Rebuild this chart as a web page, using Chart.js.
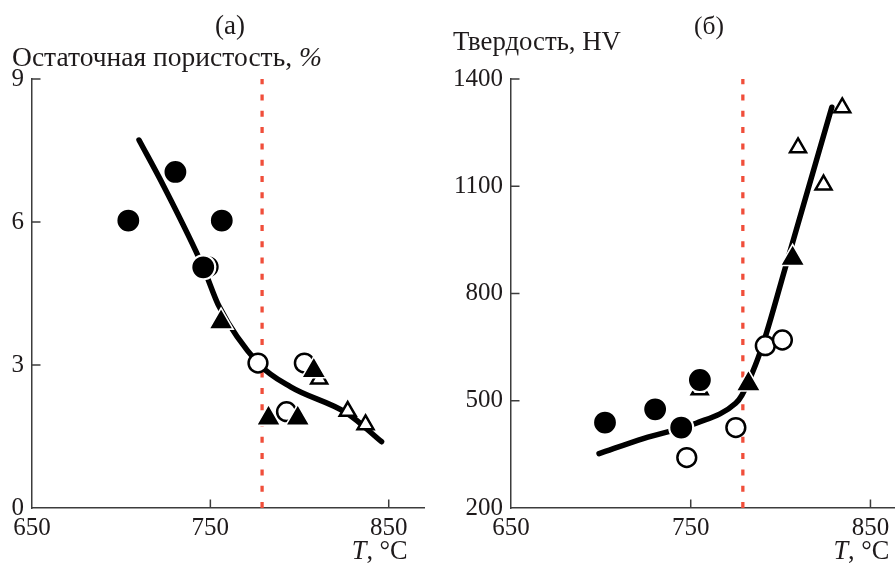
<!DOCTYPE html>
<html><head><meta charset="utf-8">
<script src="https://cdn.jsdelivr.net/npm/chart.js@4/dist/chart.umd.min.js"></script>
<style>
html,body{margin:0;padding:0;background:#fff;overflow:hidden;width:895px;height:563px}
#ca{position:absolute;left:0;top:0}
#cb{position:absolute;left:440px;top:0}
</style></head><body>
<canvas id="ca" width="440" height="563"></canvas>
<canvas id="cb" width="482" height="563"></canvas>
<script>
// ---- shared ----
const xTicks = [650, 750, 850];
const tCritical = 779;

// ---- panel (а): residual porosity, % ----
const poreTicks = [0, 3, 6, 9];
const poreFilledCircleT = [704, 730.4, 756.4, 746];
const poreFilledCircleV = [6.03, 7.05, 6.03, 5.05];
const poreFilledTriT = [756, 782.6, 799, 808];
const poreFilledTriV = [3.9, 1.88, 1.88, 2.88];
const poreOpenCircleT = [748.7, 776.7, 792.7, 802.7];
const poreOpenCircleV = [5.06, 3.04, 2.02, 3.04];
const poreOpenTriT = [811, 827, 837];
const poreOpenTriV = [2.71, 2.03, 1.75];
const poreCurveT = [710, 724, 746, 755, 777, 795, 826.5, 846];
const poreCurveV = [7.72, 6.74, 5.05, 4.22, 3.03, 2.54, 1.99, 1.39];

// ---- panel (б): hardness, HV ----
const hvTicks = [200, 500, 800, 1100, 1400];
const hvFilledCircleT = [702.3, 730.2, 744.7, 755.1];
const hvFilledCircleV = [439, 476, 425, 558];
const hvFilledTriT = [782.1, 806.7];
const hvFilledTriV = [547, 898];
const hvOpenCircleT = [747.8, 775.1, 791.5, 801];
const hvOpenCircleV = [341, 425, 654, 670];
const hvOpenTriT = [755, 809.7, 823.9, 834.3];
const hvOpenTriV = [531, 1208, 1104, 1320];
const hvCurveT = [699, 724, 753, 775, 778.5, 786, 791.5, 802.5, 828.5];
const hvCurveV = [352, 395, 437, 493, 516, 600, 679, 870, 1321];

const FONT = '"Liberation Serif", "Times New Roman", serif';
const INK = '#1e1a1b';
const AXIS = '#3c3c3c';
const RED = 'rgb(240,78,58)';

function pts(xs, ys) { return xs.map((x, i) => ({ x: x, y: ys[i] })); }

function drawRich(ctx, parts, x, y, align, baseSize, targetW) {
  ctx.save();
  ctx.textBaseline = 'alphabetic';
  ctx.textAlign = 'left';
  ctx.fillStyle = INK;
  const measure = size => parts.map(p => { ctx.font = (p[1] ? 'italic ' : '') + size + 'px ' + FONT; return ctx.measureText(p[0]).width; });
  let widths = measure(baseSize);
  let total = widths.reduce((a, b) => a + b, 0);
  let size = baseSize;
  if (targetW) { size = baseSize * targetW / total; widths = measure(size); total = widths.reduce((a, b) => a + b, 0); }
  let cx = align === 'center' ? x - total / 2 : (align === 'right' ? x - total : x);
  parts.forEach((p, i) => {
    ctx.font = (p[1] ? 'italic ' : '') + size + 'px ' + FONT;
    ctx.fillText(p[0], cx, y);
    cx += widths[i];
  });
  ctx.restore();
}

function makePanel(canvasId, o) {
  const markers = [
    { data: pts(o.fcT, o.fcV), pointStyle: 'circle', pointRadius: 12, pointBackgroundColor: '#000', pointBorderColor: '#fff', pointBorderWidth: 2.2 },
    { data: pts(o.ftT, o.ftV), pointStyle: 'triangle', pointRadius: 14, pointBackgroundColor: '#000', pointBorderColor: '#fff', pointBorderWidth: 1.6 },
    { data: pts(o.ocT, o.ocV), pointStyle: 'circle', pointRadius: 9.4, pointBackgroundColor: '#fff', pointBorderColor: '#000', pointBorderWidth: 2.5 },
    { data: pts(o.otT, o.otV), pointStyle: 'triangle', pointRadius: 9.2, pointBackgroundColor: '#fff', pointBorderColor: '#000', pointBorderWidth: 2.5 }
  ];
  markers.forEach(m => { m.showLine = false; m.pointHoverRadius = m.pointRadius; });
  const curve = { data: pts(o.curveT, o.curveV), showLine: true, pointRadius: 0, borderColor: '#000', borderWidth: 5.5, cubicInterpolationMode: 'monotone', borderCapStyle: 'round', borderJoinStyle: 'round' };
  const redLine = { data: [{ x: tCritical, y: o.yTicks[0] }, { x: tCritical, y: o.yTicks[o.yTicks.length - 1] }], showLine: true, pointRadius: 0, borderColor: RED, borderWidth: 3.3, borderDash: [6, 10.3], borderCapStyle: 'butt' };

  const tickFont = { family: FONT, size: 25 };
  const extras = {
    id: 'extras',
    afterDraw(chart) {
      const ctx = chart.ctx;
      const xs = chart.scales.x, ys = chart.scales.y;
      const ca = chart.chartArea;
      ctx.save();
      ctx.strokeStyle = AXIS;
      ctx.lineWidth = 1.5;
      ctx.beginPath();
      xs.ticks.forEach(t => {
        const px = xs.getPixelForValue(t.value);
        if (Math.abs(px - ca.left) < 2) return;
        ctx.moveTo(px, ca.bottom); ctx.lineTo(px, ca.bottom - 8.5);
      });
      ys.ticks.forEach(t => {
        const py = ys.getPixelForValue(t.value);
        if (Math.abs(py - ca.bottom) < 2) return;
        ctx.moveTo(ca.left, py); ctx.lineTo(ca.left + 8.5, py);
      });
      ctx.stroke();
      ctx.restore();
      // texts
      drawRich(ctx, [[o.panel, false]], o.panelX, 34, 'center', 24, 30);
      drawRich(ctx, o.yTitle, o.yTitleX, o.yTitleY, 'left', 24, o.yTitleW);
      drawRich(ctx, [['T', true], [', °C', false]], xs.getPixelForValue(850) - 37, 559, 'left', 24, 56);
    }
  };

  return new Chart(document.getElementById(canvasId), {
    type: 'scatter',
    data: { datasets: markers.concat([curve, redLine]) },
    options: {
      responsive: false,
      animation: false,
      events: [],
      layout: { padding: { top: 79, right: 8, left: 0, bottom: 0 } },
      plugins: { legend: { display: false }, tooltip: { enabled: false } },
      scales: {
        x: {
          type: 'linear', min: 650, max: 870,
          afterBuildTicks: s => { s.ticks = xTicks.map(v => ({ value: v })); },
          afterFit: s => { s.height = 55; },
          grid: { display: false, drawTicks: false },
          border: { display: true, color: AXIS, width: 1.5 },
          ticks: { font: tickFont, color: INK, padding: 5, maxRotation: 0, autoSkip: false, callback: v => String(v) }
        },
        y: {
          type: 'linear', min: o.yTicks[0], max: o.yTicks[o.yTicks.length - 1],
          afterBuildTicks: s => { s.ticks = o.yTicks.map(v => ({ value: v })); },
          afterFit: s => { s.width = o.yAxisW; },
          grid: { display: false, drawTicks: false },
          border: { display: true, color: AXIS, width: 1.5 },
          ticks: { font: tickFont, color: INK, padding: 8, autoSkip: false, callback: v => String(v) }
        }
      }
    },
    plugins: [extras]
  });
}

makePanel('ca', {
  panel: '(а)', panelX: 230,
  yTitle: [['Остаточная пористость, ', false], ['%', true]], yTitleX: 12, yTitleY: 66, yTitleW: 310,
  yTicks: poreTicks, yAxisW: 32,
  fcT: poreFilledCircleT, fcV: poreFilledCircleV,
  ftT: poreFilledTriT, ftV: poreFilledTriV,
  ocT: poreOpenCircleT, ocV: poreOpenCircleV,
  otT: poreOpenTriT, otV: poreOpenTriV,
  curveT: poreCurveT, curveV: poreCurveV
});

makePanel('cb', {
  panel: '(б)', panelX: 269,
  yTitle: [['Твердость, HV', false]], yTitleX: 13, yTitleY: 50, yTitleW: 168,
  yTicks: hvTicks, yAxisW: 71,
  fcT: hvFilledCircleT, fcV: hvFilledCircleV,
  ftT: hvFilledTriT, ftV: hvFilledTriV,
  ocT: hvOpenCircleT, ocV: hvOpenCircleV,
  otT: hvOpenTriT, otV: hvOpenTriV,
  curveT: hvCurveT, curveV: hvCurveV
});
</script>
</body></html>
